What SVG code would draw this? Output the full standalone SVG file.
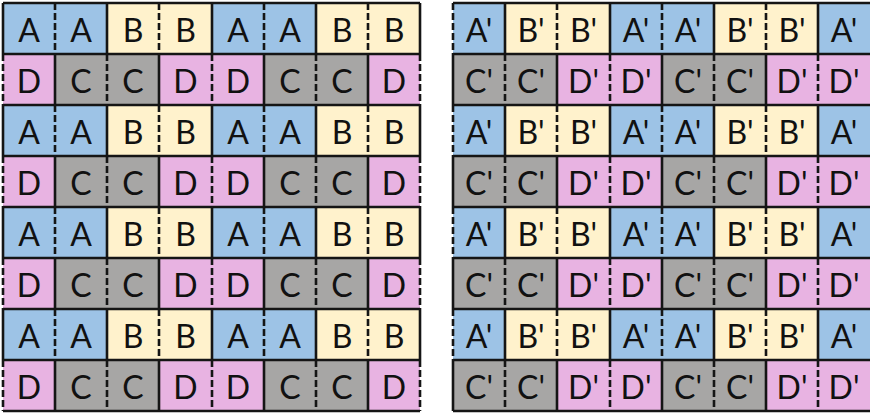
<svg xmlns="http://www.w3.org/2000/svg" width="870" height="413" viewBox="0 0 870 413">
<style>
.a{fill:#9dc3e6}.b{fill:#fff2cc}.c{fill:#a7a6a5}.d{fill:#e8b3e2}
text{font-family:Lato,"Open Sans","Liberation Sans",sans-serif;font-size:32px;fill:#111;text-anchor:middle}
.s{stroke:#151515;stroke-width:2.6;fill:none}
.k{stroke:#151515;stroke-width:2.6;fill:none;stroke-dasharray:7 3}
</style>
<rect width="870" height="413" fill="#fff"/>
<g id="left-grid" transform="translate(0 0.5)">
<g id="L00"><rect class="a" x="3" y="3" width="52" height="51"/><text x="29" y="41.5">A</text></g>
<g id="L01"><rect class="a" x="55" y="3" width="52" height="51"/><text x="81" y="41.5">A</text></g>
<g id="L02"><rect class="b" x="107" y="3" width="52" height="51"/><text x="133" y="41.5">B</text></g>
<g id="L03"><rect class="b" x="159" y="3" width="53" height="51"/><text x="185.5" y="41.5">B</text></g>
<g id="L04"><rect class="a" x="212" y="3" width="52" height="51"/><text x="238" y="41.5">A</text></g>
<g id="L05"><rect class="a" x="264" y="3" width="52" height="51"/><text x="290" y="41.5">A</text></g>
<g id="L06"><rect class="b" x="316" y="3" width="52" height="51"/><text x="342" y="41.5">B</text></g>
<g id="L07"><rect class="b" x="368" y="3" width="52" height="51"/><text x="394" y="41.5">B</text></g>
<g id="L10"><rect class="d" x="3" y="54" width="52" height="51"/><text x="29" y="92.5">D</text></g>
<g id="L11"><rect class="c" x="55" y="54" width="52" height="51"/><text x="81" y="92.5">C</text></g>
<g id="L12"><rect class="c" x="107" y="54" width="52" height="51"/><text x="133" y="92.5">C</text></g>
<g id="L13"><rect class="d" x="159" y="54" width="53" height="51"/><text x="185.5" y="92.5">D</text></g>
<g id="L14"><rect class="d" x="212" y="54" width="52" height="51"/><text x="238" y="92.5">D</text></g>
<g id="L15"><rect class="c" x="264" y="54" width="52" height="51"/><text x="290" y="92.5">C</text></g>
<g id="L16"><rect class="c" x="316" y="54" width="52" height="51"/><text x="342" y="92.5">C</text></g>
<g id="L17"><rect class="d" x="368" y="54" width="52" height="51"/><text x="394" y="92.5">D</text></g>
<g id="L20"><rect class="a" x="3" y="105" width="52" height="51"/><text x="29" y="143.5">A</text></g>
<g id="L21"><rect class="a" x="55" y="105" width="52" height="51"/><text x="81" y="143.5">A</text></g>
<g id="L22"><rect class="b" x="107" y="105" width="52" height="51"/><text x="133" y="143.5">B</text></g>
<g id="L23"><rect class="b" x="159" y="105" width="53" height="51"/><text x="185.5" y="143.5">B</text></g>
<g id="L24"><rect class="a" x="212" y="105" width="52" height="51"/><text x="238" y="143.5">A</text></g>
<g id="L25"><rect class="a" x="264" y="105" width="52" height="51"/><text x="290" y="143.5">A</text></g>
<g id="L26"><rect class="b" x="316" y="105" width="52" height="51"/><text x="342" y="143.5">B</text></g>
<g id="L27"><rect class="b" x="368" y="105" width="52" height="51"/><text x="394" y="143.5">B</text></g>
<g id="L30"><rect class="d" x="3" y="156" width="52" height="51"/><text x="29" y="194.5">D</text></g>
<g id="L31"><rect class="c" x="55" y="156" width="52" height="51"/><text x="81" y="194.5">C</text></g>
<g id="L32"><rect class="c" x="107" y="156" width="52" height="51"/><text x="133" y="194.5">C</text></g>
<g id="L33"><rect class="d" x="159" y="156" width="53" height="51"/><text x="185.5" y="194.5">D</text></g>
<g id="L34"><rect class="d" x="212" y="156" width="52" height="51"/><text x="238" y="194.5">D</text></g>
<g id="L35"><rect class="c" x="264" y="156" width="52" height="51"/><text x="290" y="194.5">C</text></g>
<g id="L36"><rect class="c" x="316" y="156" width="52" height="51"/><text x="342" y="194.5">C</text></g>
<g id="L37"><rect class="d" x="368" y="156" width="52" height="51"/><text x="394" y="194.5">D</text></g>
<g id="L40"><rect class="a" x="3" y="207" width="52" height="51"/><text x="29" y="245.5">A</text></g>
<g id="L41"><rect class="a" x="55" y="207" width="52" height="51"/><text x="81" y="245.5">A</text></g>
<g id="L42"><rect class="b" x="107" y="207" width="52" height="51"/><text x="133" y="245.5">B</text></g>
<g id="L43"><rect class="b" x="159" y="207" width="53" height="51"/><text x="185.5" y="245.5">B</text></g>
<g id="L44"><rect class="a" x="212" y="207" width="52" height="51"/><text x="238" y="245.5">A</text></g>
<g id="L45"><rect class="a" x="264" y="207" width="52" height="51"/><text x="290" y="245.5">A</text></g>
<g id="L46"><rect class="b" x="316" y="207" width="52" height="51"/><text x="342" y="245.5">B</text></g>
<g id="L47"><rect class="b" x="368" y="207" width="52" height="51"/><text x="394" y="245.5">B</text></g>
<g id="L50"><rect class="d" x="3" y="258" width="52" height="51"/><text x="29" y="296.5">D</text></g>
<g id="L51"><rect class="c" x="55" y="258" width="52" height="51"/><text x="81" y="296.5">C</text></g>
<g id="L52"><rect class="c" x="107" y="258" width="52" height="51"/><text x="133" y="296.5">C</text></g>
<g id="L53"><rect class="d" x="159" y="258" width="53" height="51"/><text x="185.5" y="296.5">D</text></g>
<g id="L54"><rect class="d" x="212" y="258" width="52" height="51"/><text x="238" y="296.5">D</text></g>
<g id="L55"><rect class="c" x="264" y="258" width="52" height="51"/><text x="290" y="296.5">C</text></g>
<g id="L56"><rect class="c" x="316" y="258" width="52" height="51"/><text x="342" y="296.5">C</text></g>
<g id="L57"><rect class="d" x="368" y="258" width="52" height="51"/><text x="394" y="296.5">D</text></g>
<g id="L60"><rect class="a" x="3" y="309" width="52" height="51"/><text x="29" y="347.5">A</text></g>
<g id="L61"><rect class="a" x="55" y="309" width="52" height="51"/><text x="81" y="347.5">A</text></g>
<g id="L62"><rect class="b" x="107" y="309" width="52" height="51"/><text x="133" y="347.5">B</text></g>
<g id="L63"><rect class="b" x="159" y="309" width="53" height="51"/><text x="185.5" y="347.5">B</text></g>
<g id="L64"><rect class="a" x="212" y="309" width="52" height="51"/><text x="238" y="347.5">A</text></g>
<g id="L65"><rect class="a" x="264" y="309" width="52" height="51"/><text x="290" y="347.5">A</text></g>
<g id="L66"><rect class="b" x="316" y="309" width="52" height="51"/><text x="342" y="347.5">B</text></g>
<g id="L67"><rect class="b" x="368" y="309" width="52" height="51"/><text x="394" y="347.5">B</text></g>
<g id="L70"><rect class="d" x="3" y="360" width="52" height="51"/><text x="29" y="398.5">D</text></g>
<g id="L71"><rect class="c" x="55" y="360" width="52" height="51"/><text x="81" y="398.5">C</text></g>
<g id="L72"><rect class="c" x="107" y="360" width="52" height="51"/><text x="133" y="398.5">C</text></g>
<g id="L73"><rect class="d" x="159" y="360" width="53" height="51"/><text x="185.5" y="398.5">D</text></g>
<g id="L74"><rect class="d" x="212" y="360" width="52" height="51"/><text x="238" y="398.5">D</text></g>
<g id="L75"><rect class="c" x="264" y="360" width="52" height="51"/><text x="290" y="398.5">C</text></g>
<g id="L76"><rect class="c" x="316" y="360" width="52" height="51"/><text x="342" y="398.5">C</text></g>
<g id="L77"><rect class="d" x="368" y="360" width="52" height="51"/><text x="394" y="398.5">D</text></g>
</g>
<g id="right-grid" transform="translate(0 0.5)">
<g id="R00"><rect class="a" x="453" y="3" width="52" height="51"/><text x="479" y="41.5">A'</text></g>
<g id="R01"><rect class="b" x="505" y="3" width="52" height="51"/><text x="531" y="41.5">B'</text></g>
<g id="R02"><rect class="b" x="557" y="3" width="53" height="51"/><text x="583.5" y="41.5">B'</text></g>
<g id="R03"><rect class="a" x="610" y="3" width="52" height="51"/><text x="636" y="41.5">A'</text></g>
<g id="R04"><rect class="a" x="662" y="3" width="52" height="51"/><text x="688" y="41.5">A'</text></g>
<g id="R05"><rect class="b" x="714" y="3" width="52" height="51"/><text x="740" y="41.5">B'</text></g>
<g id="R06"><rect class="b" x="766" y="3" width="52" height="51"/><text x="792" y="41.5">B'</text></g>
<g id="R07"><rect class="a" x="818" y="3" width="52" height="51"/><text x="844" y="41.5">A'</text></g>
<g id="R10"><rect class="c" x="453" y="54" width="52" height="51"/><text x="479" y="92.5">C'</text></g>
<g id="R11"><rect class="c" x="505" y="54" width="52" height="51"/><text x="531" y="92.5">C'</text></g>
<g id="R12"><rect class="d" x="557" y="54" width="53" height="51"/><text x="583.5" y="92.5">D'</text></g>
<g id="R13"><rect class="d" x="610" y="54" width="52" height="51"/><text x="636" y="92.5">D'</text></g>
<g id="R14"><rect class="c" x="662" y="54" width="52" height="51"/><text x="688" y="92.5">C'</text></g>
<g id="R15"><rect class="c" x="714" y="54" width="52" height="51"/><text x="740" y="92.5">C'</text></g>
<g id="R16"><rect class="d" x="766" y="54" width="52" height="51"/><text x="792" y="92.5">D'</text></g>
<g id="R17"><rect class="d" x="818" y="54" width="52" height="51"/><text x="844" y="92.5">D'</text></g>
<g id="R20"><rect class="a" x="453" y="105" width="52" height="51"/><text x="479" y="143.5">A'</text></g>
<g id="R21"><rect class="b" x="505" y="105" width="52" height="51"/><text x="531" y="143.5">B'</text></g>
<g id="R22"><rect class="b" x="557" y="105" width="53" height="51"/><text x="583.5" y="143.5">B'</text></g>
<g id="R23"><rect class="a" x="610" y="105" width="52" height="51"/><text x="636" y="143.5">A'</text></g>
<g id="R24"><rect class="a" x="662" y="105" width="52" height="51"/><text x="688" y="143.5">A'</text></g>
<g id="R25"><rect class="b" x="714" y="105" width="52" height="51"/><text x="740" y="143.5">B'</text></g>
<g id="R26"><rect class="b" x="766" y="105" width="52" height="51"/><text x="792" y="143.5">B'</text></g>
<g id="R27"><rect class="a" x="818" y="105" width="52" height="51"/><text x="844" y="143.5">A'</text></g>
<g id="R30"><rect class="c" x="453" y="156" width="52" height="51"/><text x="479" y="194.5">C'</text></g>
<g id="R31"><rect class="c" x="505" y="156" width="52" height="51"/><text x="531" y="194.5">C'</text></g>
<g id="R32"><rect class="d" x="557" y="156" width="53" height="51"/><text x="583.5" y="194.5">D'</text></g>
<g id="R33"><rect class="d" x="610" y="156" width="52" height="51"/><text x="636" y="194.5">D'</text></g>
<g id="R34"><rect class="c" x="662" y="156" width="52" height="51"/><text x="688" y="194.5">C'</text></g>
<g id="R35"><rect class="c" x="714" y="156" width="52" height="51"/><text x="740" y="194.5">C'</text></g>
<g id="R36"><rect class="d" x="766" y="156" width="52" height="51"/><text x="792" y="194.5">D'</text></g>
<g id="R37"><rect class="d" x="818" y="156" width="52" height="51"/><text x="844" y="194.5">D'</text></g>
<g id="R40"><rect class="a" x="453" y="207" width="52" height="51"/><text x="479" y="245.5">A'</text></g>
<g id="R41"><rect class="b" x="505" y="207" width="52" height="51"/><text x="531" y="245.5">B'</text></g>
<g id="R42"><rect class="b" x="557" y="207" width="53" height="51"/><text x="583.5" y="245.5">B'</text></g>
<g id="R43"><rect class="a" x="610" y="207" width="52" height="51"/><text x="636" y="245.5">A'</text></g>
<g id="R44"><rect class="a" x="662" y="207" width="52" height="51"/><text x="688" y="245.5">A'</text></g>
<g id="R45"><rect class="b" x="714" y="207" width="52" height="51"/><text x="740" y="245.5">B'</text></g>
<g id="R46"><rect class="b" x="766" y="207" width="52" height="51"/><text x="792" y="245.5">B'</text></g>
<g id="R47"><rect class="a" x="818" y="207" width="52" height="51"/><text x="844" y="245.5">A'</text></g>
<g id="R50"><rect class="c" x="453" y="258" width="52" height="51"/><text x="479" y="296.5">C'</text></g>
<g id="R51"><rect class="c" x="505" y="258" width="52" height="51"/><text x="531" y="296.5">C'</text></g>
<g id="R52"><rect class="d" x="557" y="258" width="53" height="51"/><text x="583.5" y="296.5">D'</text></g>
<g id="R53"><rect class="d" x="610" y="258" width="52" height="51"/><text x="636" y="296.5">D'</text></g>
<g id="R54"><rect class="c" x="662" y="258" width="52" height="51"/><text x="688" y="296.5">C'</text></g>
<g id="R55"><rect class="c" x="714" y="258" width="52" height="51"/><text x="740" y="296.5">C'</text></g>
<g id="R56"><rect class="d" x="766" y="258" width="52" height="51"/><text x="792" y="296.5">D'</text></g>
<g id="R57"><rect class="d" x="818" y="258" width="52" height="51"/><text x="844" y="296.5">D'</text></g>
<g id="R60"><rect class="a" x="453" y="309" width="52" height="51"/><text x="479" y="347.5">A'</text></g>
<g id="R61"><rect class="b" x="505" y="309" width="52" height="51"/><text x="531" y="347.5">B'</text></g>
<g id="R62"><rect class="b" x="557" y="309" width="53" height="51"/><text x="583.5" y="347.5">B'</text></g>
<g id="R63"><rect class="a" x="610" y="309" width="52" height="51"/><text x="636" y="347.5">A'</text></g>
<g id="R64"><rect class="a" x="662" y="309" width="52" height="51"/><text x="688" y="347.5">A'</text></g>
<g id="R65"><rect class="b" x="714" y="309" width="52" height="51"/><text x="740" y="347.5">B'</text></g>
<g id="R66"><rect class="b" x="766" y="309" width="52" height="51"/><text x="792" y="347.5">B'</text></g>
<g id="R67"><rect class="a" x="818" y="309" width="52" height="51"/><text x="844" y="347.5">A'</text></g>
<g id="R70"><rect class="c" x="453" y="360" width="52" height="51"/><text x="479" y="398.5">C'</text></g>
<g id="R71"><rect class="c" x="505" y="360" width="52" height="51"/><text x="531" y="398.5">C'</text></g>
<g id="R72"><rect class="d" x="557" y="360" width="53" height="51"/><text x="583.5" y="398.5">D'</text></g>
<g id="R73"><rect class="d" x="610" y="360" width="52" height="51"/><text x="636" y="398.5">D'</text></g>
<g id="R74"><rect class="c" x="662" y="360" width="52" height="51"/><text x="688" y="398.5">C'</text></g>
<g id="R75"><rect class="c" x="714" y="360" width="52" height="51"/><text x="740" y="398.5">C'</text></g>
<g id="R76"><rect class="d" x="766" y="360" width="52" height="51"/><text x="792" y="398.5">D'</text></g>
<g id="R77"><rect class="d" x="818" y="360" width="52" height="51"/><text x="844" y="398.5">D'</text></g>
</g>
<g id="grid-lines">
<path class="s" d="M3 3H420M3 54H420M3 105H420M3 156H420M3 207H420M3 258H420M3 309H420M3 360H420M3 411H420"/>
<path class="s" d="M453 3H870M453 54H870M453 105H870M453 156H870M453 207H870M453 258H870M453 309H870M453 360H870M453 411H870"/>
<path class="s" d="M3 3V54M107 3V54M212 3V54M316 3V54M420 3V54M3 105V156M107 105V156M212 105V156M316 105V156M420 105V156M3 207V258M107 207V258M212 207V258M316 207V258M420 207V258M3 309V360M107 309V360M212 309V360M316 309V360M420 309V360"/>
<path class="s" d="M55 54V105M159 54V105M264 54V105M368 54V105M55 156V207M159 156V207M264 156V207M368 156V207M55 258V309M159 258V309M264 258V309M368 258V309M55 360V411M159 360V411M264 360V411M368 360V411"/>
<path class="k" d="M55 3V54M159 3V54M264 3V54M368 3V54M55 105V156M159 105V156M264 105V156M368 105V156M55 207V258M159 207V258M264 207V258M368 207V258M55 309V360M159 309V360M264 309V360M368 309V360"/>
<path class="k" d="M3 54V105M107 54V105M212 54V105M316 54V105M420 54V105M3 156V207M107 156V207M212 156V207M316 156V207M420 156V207M3 258V309M107 258V309M212 258V309M316 258V309M420 258V309M3 360V411M107 360V411M212 360V411M316 360V411M420 360V411"/>
<path class="s" d="M505 3V54M610 3V54M714 3V54M818 3V54M505 105V156M610 105V156M714 105V156M818 105V156M505 207V258M610 207V258M714 207V258M818 207V258M505 309V360M610 309V360M714 309V360M818 309V360"/>
<path class="s" d="M453 54V105M557 54V105M662 54V105M766 54V105M453 156V207M557 156V207M662 156V207M766 156V207M453 258V309M557 258V309M662 258V309M766 258V309M453 360V411M557 360V411M662 360V411M766 360V411"/>
<path class="k" d="M453 3V54M557 3V54M662 3V54M766 3V54M453 105V156M557 105V156M662 105V156M766 105V156M453 207V258M557 207V258M662 207V258M766 207V258M453 309V360M557 309V360M662 309V360M766 309V360"/>
<path class="k" d="M505 54V105M610 54V105M714 54V105M818 54V105M505 156V207M610 156V207M714 156V207M818 156V207M505 258V309M610 258V309M714 258V309M818 258V309M505 360V411M610 360V411M714 360V411M818 360V411"/>
</g>
</svg>
